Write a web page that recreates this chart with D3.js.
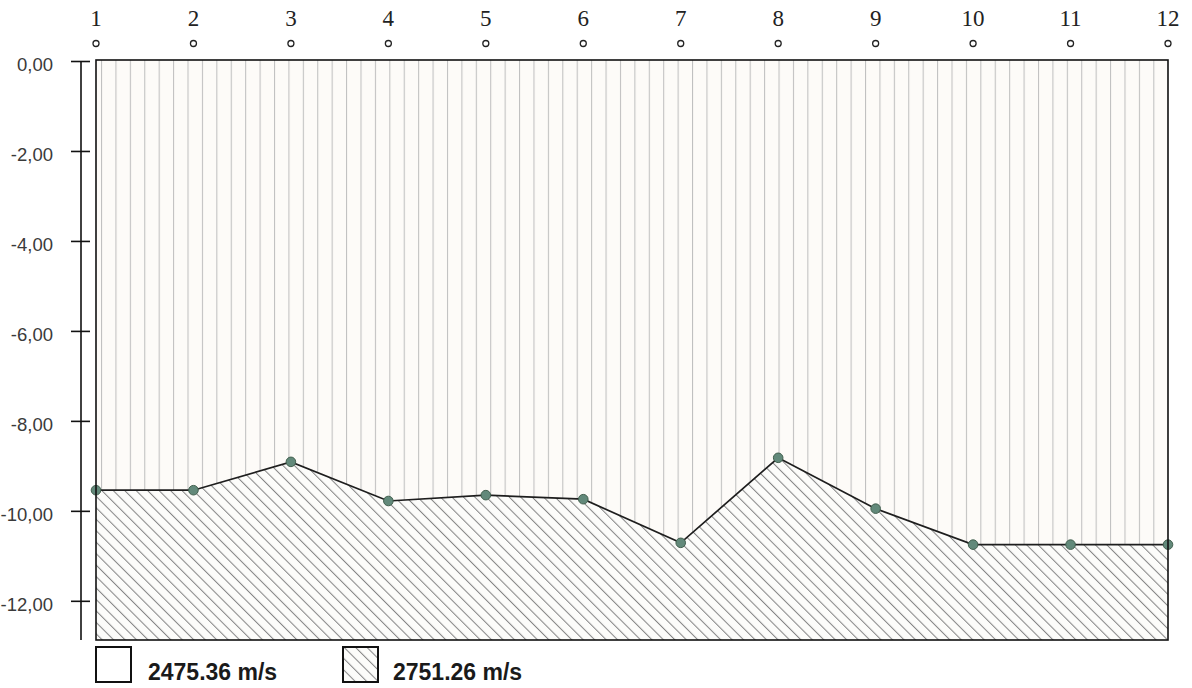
<!DOCTYPE html>
<html>
<head>
<meta charset="utf-8">
<script src="https://cdn.jsdelivr.net/npm/d3@7"></script>
<style>
  html, body { margin: 0; padding: 0; background: #ffffff; }
  svg { display: block; }
</style>
</head>
<body>
<svg id="chart" width="1192" height="688"></svg>
<script>
// Station numbers along the profile (top axis)
const stations = [1, 2, 3, 4, 5, 6, 7, 8, 9, 10, 11, 12];
// Depth of the refracting boundary under each station (m)
const depths = [-9.53, -9.53, -8.90, -9.77, -9.64, -9.73, -10.70, -8.81, -9.94, -10.74, -10.74, -10.74];
// Vertical axis ticks
const yTicks = [0, -2, -4, -6, -8, -10, -12];
// Bottom of the section
const depthMin = -12.86;
// Layer velocities shown in the legend
const layers = ["2475.36 m/s", "2751.26 m/s"];

const svg = d3.select("#chart");
const plotL = 96, plotR = 1168, plotT = 60, plotB = 640;

const x = d3.scaleLinear().domain([1, 12]).range([plotL, plotR]);
const y = d3.scaleLinear().domain([0, depthMin]).range([61.5, plotB]);

const defs = svg.append("defs");

// Upper layer: thin vertical hatching
const pv = defs.append("pattern")
  .attr("id", "hatchV")
  .attr("patternUnits", "userSpaceOnUse")
  .attr("x", 101).attr("y", 0)
  .attr("width", 14.415).attr("height", 20);
pv.append("rect").attr("width", 14.415).attr("height", 20).attr("fill", "#fdfbf8");
pv.append("line").attr("x1", 0.5).attr("x2", 0.5).attr("y1", 0).attr("y2", 20)
  .attr("stroke", "#c0c0c0").attr("stroke-width", 1.1);

// Lower layer: diagonal hatching
const pd = defs.append("pattern")
  .attr("id", "hatchD")
  .attr("patternUnits", "userSpaceOnUse")
  .attr("width", 8.1).attr("height", 20)
  .attr("patternTransform", "rotate(-45)");
pd.append("rect").attr("width", 8.1).attr("height", 20).attr("fill", "#fcfcfa");
pd.append("line").attr("x1", 0.5).attr("x2", 0.5).attr("y1", 0).attr("y2", 20)
  .attr("stroke", "#858585").attr("stroke-width", 1.05);

// Upper layer fill over the whole section
svg.append("rect")
  .attr("x", plotL).attr("y", plotT)
  .attr("width", plotR - plotL).attr("height", plotB - plotT)
  .attr("fill", "url(#hatchV)");

const pts = stations.map((s, i) => ({ s, d: depths[i] }));

// Lower layer fill below the boundary
const area = d3.area()
  .x(p => x(p.s))
  .y0(y(depthMin))
  .y1(p => y(p.d));
svg.append("path")
  .datum(pts)
  .attr("d", area)
  .attr("fill", "url(#hatchD)");

// Boundary line
svg.append("path")
  .datum(pts)
  .attr("d", d3.line().x(p => x(p.s)).y(p => y(p.d)))
  .attr("fill", "none")
  .attr("stroke", "#1e1e1e")
  .attr("stroke-width", 1.7);

// Boundary points
svg.append("g").selectAll("circle")
  .data(pts)
  .join("circle")
  .attr("cx", p => x(p.s))
  .attr("cy", p => y(p.d))
  .attr("r", 4.8)
  .attr("fill", "#62897a")
  .attr("stroke", "#43604f")
  .attr("stroke-width", 1);

// Section frame
svg.append("rect")
  .attr("x", plotL).attr("y", plotT)
  .attr("width", plotR - plotL).attr("height", plotB - plotT)
  .attr("fill", "none")
  .attr("stroke", "#111")
  .attr("stroke-width", 1.6);

// Depth axis
const yAxis = svg.append("g");
yAxis.append("line")
  .attr("x1", 81).attr("x2", 81)
  .attr("y1", y(0)).attr("y2", plotB)
  .attr("stroke", "#111").attr("stroke-width", 1.6);
const ticks = yAxis.selectAll("g.tick")
  .data(yTicks)
  .join("g")
  .attr("class", "tick")
  .attr("transform", d => `translate(0,${y(d)})`);
ticks.append("line")
  .attr("x1", 71).attr("x2", 90)
  .attr("stroke", "#111").attr("stroke-width", 1.6);
const fmt = d => d3.format(".2f")(d).replace("−", "-").replace(".", ",");
ticks.append("text")
  .attr("x", 53)
  .attr("y", 3.5)
  .attr("dy", "0.35em")
  .attr("text-anchor", "end")
  .attr("font-family", "'Liberation Sans', Arial, sans-serif")
  .attr("font-size", 18.5)
  .attr("fill", "#3a3a3a")
  .text(fmt);

// Station labels along the top
const stationG = svg.append("g").selectAll("g")
  .data(stations)
  .join("g")
  .attr("transform", s => `translate(${x(s)},0)`);
stationG.append("text")
  .attr("y", 26)
  .attr("text-anchor", "middle")
  .attr("font-family", "'Liberation Serif', 'Times New Roman', serif")
  .attr("font-size", 23)
  .attr("fill", "#222")
  .text(s => s);
stationG.append("circle")
  .attr("cy", 43.5)
  .attr("r", 3)
  .attr("fill", "none")
  .attr("stroke", "#222")
  .attr("stroke-width", 1.3);

// Legend
const legendX = [96, 343];
const leg = svg.append("g").selectAll("g")
  .data(layers)
  .join("g")
  .attr("transform", (d, i) => `translate(${legendX[i]},647)`);
leg.append("rect")
  .attr("width", 35).attr("height", 35)
  .attr("fill", (d, i) => i === 0 ? "#ffffff" : "url(#hatchD)")
  .attr("stroke", "#111")
  .attr("stroke-width", 2);
leg.append("text")
  .attr("x", (d, i) => i === 0 ? 52 : 50)
  .attr("y", 33)
  .attr("font-family", "'Liberation Sans', Arial, sans-serif")
  .attr("font-weight", "bold")
  .attr("font-size", 23)
  .attr("fill", "#1a1a1a")
  .text(d => d);
</script>
</body>
</html>
